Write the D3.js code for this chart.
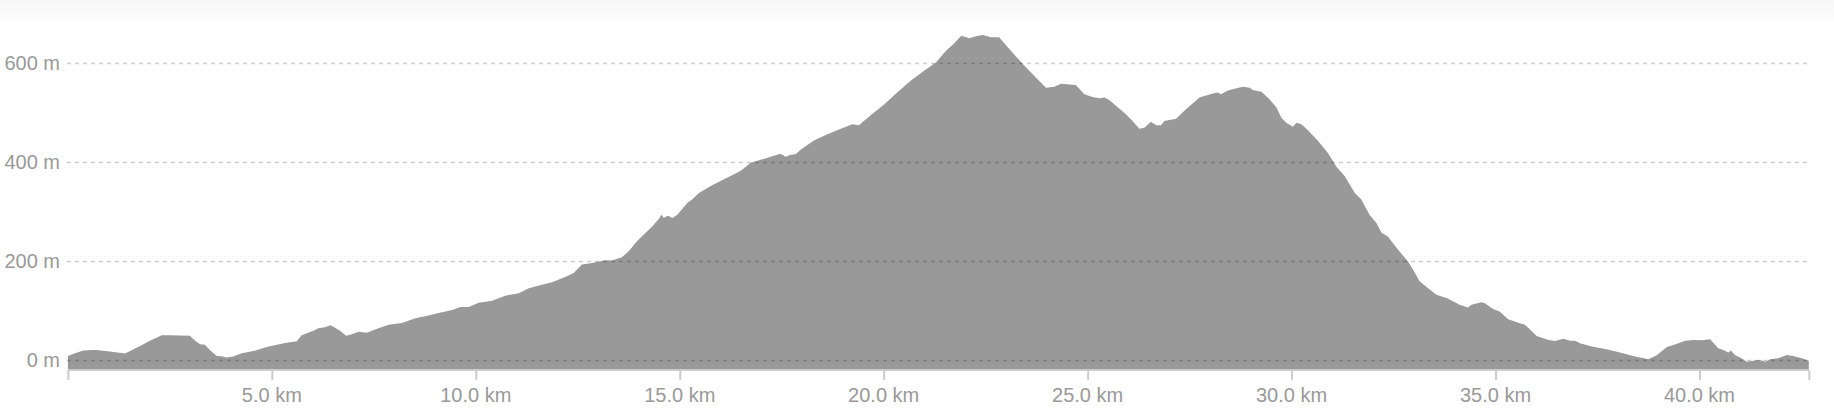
<!DOCTYPE html>
<html>
<head>
<meta charset="utf-8">
<script src="https://cdn.jsdelivr.net/npm/d3@7"></script>
<style>
  html, body { margin: 0; padding: 0; background: #ffffff; }
  svg { display: block; }
  text { font-family: "Liberation Sans", Arial, sans-serif; }
</style>
</head>
<body>
<svg id="chart" width="1834" height="420"></svg>
<script>
// ---- data ----
const distanceKm = [
  0, 0.17, 0.38, 0.62, 0.7, 1.03, 1.4, 1.77, 2.01, 2.3, 2.5, 2.99, 3.12, 3.24, 3.36, 3.48, 3.65, 3.77, 3.89, 4.05,
  4.26, 4.55, 4.87, 5.12, 5.36, 5.61, 5.73, 6.02, 6.14, 6.3, 6.44, 6.55, 6.67, 6.82, 6.96, 7.13, 7.33, 7.58, 7.86, 8.19,
  8.52, 8.84, 9.09, 9.42, 9.62, 9.83, 10.07, 10.4, 10.72, 11.05, 11.3, 11.62, 11.87, 12.19, 12.4, 12.6, 12.85, 13.17, 13.34, 13.58,
  13.75, 13.95, 14.12, 14.33, 14.49, 14.55, 14.61, 14.71, 14.82, 14.94, 15.19, 15.31, 15.47, 15.76, 16.17, 16.49, 16.74, 17.15, 17.47, 17.6,
  17.72, 17.84, 17.97, 18.29, 18.62, 18.95, 19.23, 19.39, 19.68, 20.01, 20.33, 20.66, 20.99, 21.28, 21.53, 21.73, 21.9, 22.1, 22.26, 22.43,
  22.63, 22.83, 23.08, 23.41, 23.73, 23.98, 24.18, 24.35, 24.71, 24.92, 25.12, 25.29, 25.41, 25.53, 25.7, 25.94, 26.1, 26.27, 26.39, 26.55,
  26.68, 26.8, 26.88, 27.17, 27.37, 27.58, 27.74, 28.07, 28.19, 28.27, 28.44, 28.6, 28.81, 28.97, 29.05, 29.26, 29.46, 29.63, 29.75, 29.87,
  30.03, 30.12, 30.24, 30.4, 30.65, 30.89, 31.1, 31.3, 31.55, 31.71, 31.91, 32.08, 32.2, 32.36, 32.61, 32.85, 32.98, 33.14, 33.34, 33.55,
  33.83, 34.12, 34.32, 34.41, 34.65, 34.73, 34.94, 35.1, 35.31, 35.6, 35.72, 35.85, 36.01, 36.17, 36.3, 36.46, 36.66, 36.83, 36.95, 37.07,
  37.36, 37.72, 38.05, 38.42, 38.75, 38.96, 39.2, 39.36, 39.65, 39.85, 40.05, 40.26, 40.34, 40.46, 40.58, 40.71, 40.77, 40.87, 41.03, 41.16,
  41.32, 41.48, 41.61, 41.73, 41.93, 42.14, 42.3, 42.51, 42.68
];
const elevationM = [
  8, 13.5, 19, 20, 20, 17, 13, 28, 39, 50, 50, 49, 39, 32, 31, 20, 8, 7.5, 5, 7,
  13.5, 18, 26, 31, 35, 38, 50, 59, 64, 66, 70, 65, 59, 49, 52, 57, 55, 63, 71, 75,
  84.5, 90, 95, 101, 107, 107, 116, 120, 130, 135, 145, 152, 157, 168, 176, 193, 196, 201.5, 201, 208,
  220, 240, 254, 270.5, 285.5, 294, 287.5, 292, 287, 294, 318, 325, 338, 352, 369, 382.5, 399, 409, 417, 411,
  415, 416, 426, 444, 456.5, 468, 477, 475, 495, 517, 541, 565, 585, 602, 625.5, 641, 656, 651, 655, 657.5,
  653, 653, 629, 599, 571.5, 551, 553, 559, 556.5, 537.5, 532, 529.5, 531, 526, 514, 497, 483.5, 468, 470, 482,
  475, 475, 483.5, 488, 504, 519.5, 531, 539, 541, 537.5, 545, 549, 553, 551, 546, 542.5, 527.5, 510.5, 490, 480,
  472, 480, 477, 465, 443, 419, 391, 372, 338, 324.5, 294, 277, 258, 250, 223, 199.5, 182.5, 159, 145.5, 132,
  124.5, 111.6, 106, 111.6, 117, 115, 103, 98, 82.5, 74.5, 71, 61, 48.7, 44, 40.6, 38.6, 43, 39, 39, 34,
  27, 21.6, 14.9, 6.8, 1.4, 10, 26, 30.4, 39, 40.6, 40, 42, 35, 23.7, 20, 15, 19, 10, 3.4, -3.4,
  -1.4, 0, -3.4, 1.4, 3.4, 10, 8, 3.4, -1.4
];
const xTickValues = [0, 5, 10, 15, 20, 25, 30, 35, 40, 42.68];
const xLabelValues = [5, 10, 15, 20, 25, 30, 35, 40];
const yTickValues = [0, 200, 400, 600];

// ---- layout ----
const svg = d3.select("#chart");
const W = 1834, H = 420;
const x = d3.scaleLinear().domain([0, 42.68]).range([67.9, 1808.8]);
const y = d3.scaleLinear().domain([-18.3, 700]).range([369, 14.0]);

const points = distanceKm.map((d, i) => ({ d, e: elevationM[i] }));

// faint band at the top
const defs = svg.append("defs");
const grad = defs.append("linearGradient").attr("id", "topband").attr("x1", 0).attr("x2", 0).attr("y1", 0).attr("y2", 1);
grad.append("stop").attr("offset", "0%").attr("stop-color", "#f7f7f7");
grad.append("stop").attr("offset", "100%").attr("stop-color", "#fdfdfd");
svg.append("rect").attr("x", 0).attr("y", 0).attr("width", W).attr("height", 22).attr("fill", "url(#topband)");

// area
const area = d3.area()
  .x(p => x(p.d))
  .y0(y(-18.3))
  .y1(p => y(p.e))
  .curve(d3.curveLinear);
svg.append("path").datum(points).attr("d", area).attr("fill", "#999999");

// gridlines (drawn over the area)
svg.append("g").selectAll("line").data(yTickValues).join("line")
  .attr("x1", 67).attr("x2", 1809)
  .attr("y1", v => Math.round(y(v)) + 0.5).attr("y2", v => Math.round(y(v)) + 0.5)
  .attr("stroke", "rgba(0,0,0,0.2)")
  .attr("stroke-width", 1.5)
  .attr("stroke-dasharray", "4,4");

// y labels
svg.append("g").selectAll("text").data(yTickValues).join("text")
  .attr("x", 60).attr("y", v => y(v))
  .attr("dy", "0.35em")
  .attr("text-anchor", "end")
  .attr("font-size", 20)
  .attr("fill", "#999999")
  .text(v => v + " m");

// x axis line + ticks
const xAxis = d3.axisBottom(x).tickValues(xTickValues).tickSize(10).tickFormat("");
const gx = svg.append("g").attr("transform", "translate(0,370)").call(xAxis);
gx.select(".domain").attr("stroke", "#cccccc").attr("stroke-width", 2).attr("d", `M${x(0)},0H${x(42.68)}`);
gx.selectAll(".tick line").attr("stroke", "#cccccc").attr("stroke-width", 2);

// x labels
svg.append("g").selectAll("text").data(xLabelValues).join("text")
  .attr("x", v => x(v)).attr("y", 401.5)
  .attr("text-anchor", "middle")
  .attr("font-size", 20)
  .attr("fill", "#999999")
  .text(v => d3.format(".1f")(v) + " km");
</script>
</body>
</html>
